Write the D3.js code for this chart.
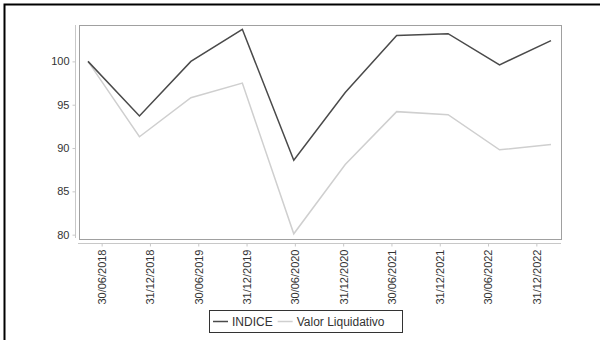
<!DOCTYPE html>
<html>
<head>
<meta charset="utf-8">
<script src="https://cdn.jsdelivr.net/npm/d3@7"></script>
<style>
  body { margin: 0; background: #fff; }
  svg { display: block; font-family: "Liberation Sans", Arial, sans-serif; }
</style>
</head>
<body>
<div id="chart"></div>
<script>
// chart data
const dates = ['30/06/2018', '31/12/2018', '30/06/2019', '31/12/2019', '30/06/2020',
  '31/12/2020', '30/06/2021', '31/12/2021', '30/06/2022', '31/12/2022'];
const indice = [100, 93.7, 100, 103.7, 88.6, 96.4, 103.0, 103.2, 99.6, 102.4];
const valorLiquidativo = [100, 91.3, 95.8, 97.5, 80.1, 88.1, 94.2, 93.85, 89.8, 90.4];
const yTicks = [80, 85, 90, 95, 100];

const width = 600, height = 340;
const plot = { left: 79, right: 561, top: 25, bottom: 239 };

const svg = d3.select('#chart').append('svg')
  .attr('width', width)
  .attr('height', height);

// outer border
svg.append('rect')
  .attr('x', 4.5).attr('y', 4.5)
  .attr('width', width).attr('height', height)
  .attr('fill', 'none')
  .attr('stroke', '#000')
  .attr('stroke-width', 2);

// scales
const yScale = d3.scaleLinear()
  .domain([79.5, 104.2])
  .range([plot.bottom, plot.top]);

// lines are drawn slightly inset, ticks are centred in bands
const xLine = d3.scalePoint()
  .domain(dates)
  .range([plot.left + 9, plot.right - 10]);

const xBand = d3.scaleBand()
  .domain(dates)
  .range([plot.left - 1, plot.right]);

// plot frame
svg.append('rect')
  .attr('x', plot.left + 0.5)
  .attr('y', plot.top + 0.5)
  .attr('width', plot.right - plot.left)
  .attr('height', plot.bottom - plot.top)
  .attr('fill', 'none')
  .attr('stroke', '#a0a0a0');

// y axis
const yAxis = svg.append('g')
  .attr('transform', 'translate(75.5,0)')
  .call(d3.axisLeft(yScale).tickValues(yTicks).tickSize(3).tickPadding(3))
  .call(g => g.select('.domain').attr('d', `M0,${plot.top}V${plot.bottom - 1}`));

// x axis
const xAxis = svg.append('g')
  .attr('transform', 'translate(0,243.5)')
  .call(d3.axisBottom(xBand).tickSize(3).tickPadding(3))
  .call(g => g.select('.domain').attr('d', `M${plot.left - 1},0H${plot.right}`));

xAxis.selectAll('text')
  .attr('transform', 'rotate(-90)')
  .attr('text-anchor', 'end')
  .attr('dy', '0.35em')
  .attr('x', -6)
  .attr('y', 0);

[yAxis, xAxis].forEach(g => {
  g.select('.domain').attr('stroke', '#c8c8c8');
  g.selectAll('.tick line').attr('stroke', '#c8c8c8');
  g.selectAll('text')
    .attr('fill', '#333')
    .style('font-size', '11px')
    .style('font-family', '"Liberation Sans", Arial, sans-serif');
});

// lines
const line = d3.line()
  .x((d, i) => xLine(dates[i]))
  .y(d => yScale(d));

const series = [
  { name: 'INDICE', values: indice, color: '#4a4a4a' },
  { name: 'Valor Liquidativo', values: valorLiquidativo, color: '#cfcfcf' }
];

svg.selectAll('.series')
  .data(series.slice().reverse())
  .enter()
  .append('path')
  .attr('class', 'series')
  .attr('d', d => line(d.values))
  .attr('fill', 'none')
  .attr('stroke', d => d.color)
  .attr('stroke-width', 1.5);

// legend
const legend = svg.append('g');
legend.append('rect')
  .attr('x', 209.5).attr('y', 310.5)
  .attr('width', 193).attr('height', 22)
  .attr('fill', '#fff')
  .attr('stroke', '#333');

let lx = 213;
series.forEach(s => {
  legend.append('line')
    .attr('x1', lx).attr('x2', lx + 15)
    .attr('y1', 321.5).attr('y2', 321.5)
    .attr('stroke', s.color)
    .attr('stroke-width', 1.5);
  const t = legend.append('text')
    .attr('x', lx + 19)
    .attr('y', 326)
    .attr('fill', '#333')
    .style('font-size', '12px')
    .text(s.name);
  lx += 19 + t.node().getComputedTextLength() + 5;
});
</script>
</body>
</html>
